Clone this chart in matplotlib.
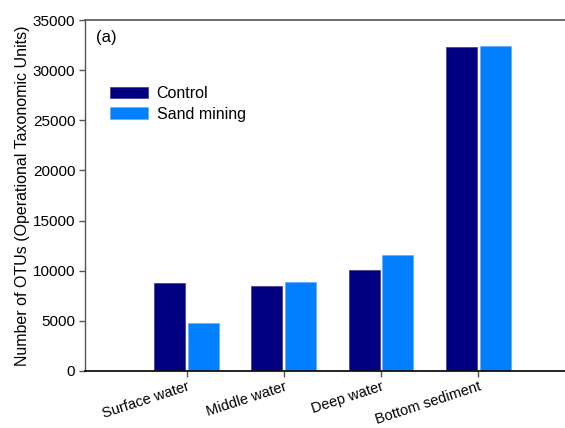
import matplotlib
matplotlib.use("Agg")
import matplotlib.pyplot as plt
import numpy as np

plt.rcParams['font.family'] = ['Liberation Sans', 'DejaVu Sans']

categories = ["Surface water", "Middle water", "Deep water", "Bottom sediment"]
control = [8770, 8500, 10070, 32300]
sand_mining = [4780, 8840, 11600, 32370]
yticks = [0, 5000, 10000, 15000, 20000, 25000, 30000, 35000]

fig = plt.figure(figsize=(5.65, 4.28), dpi=100)
ax = fig.add_axes([85/565, 57/428, 480/565, 351/428])

x = np.arange(len(categories))
w = 0.32
ax.bar(x - 0.175, control, width=w, color='#000080', edgecolor='#3a3a8a', linewidth=0.5, label='Control')
ax.bar(x + 0.173, sand_mining, width=w, color='#0080FF', edgecolor='#6aaaf5', linewidth=0.5, label='Sand mining')

ax.set_xlim(-1.046, 3.892)
ax.set_ylim(0, 35000)
ax.set_yticks(yticks)
ax.set_yticklabels([str(v) for v in yticks], fontsize=11)
ax.set_xticks(x)
ax.set_xticklabels(categories, rotation=18, ha='right', rotation_mode='anchor', fontsize=10.5)
ax.tick_params(axis='both', direction='out', length=4, width=1, color='#555555', pad=3)
ax.tick_params(axis='x', pad=2)
ax.set_ylabel("Number of OTUs (Operational Taxonomic Units)", fontsize=11.5, labelpad=2)

ax.spines['right'].set_visible(False)
ax.spines['top'].set_color('#555555')
ax.spines['top'].set_linewidth(1.2)
ax.spines['left'].set_color('#555555')
ax.spines['left'].set_linewidth(1.0)
ax.spines['bottom'].set_color('#111111')
ax.spines['bottom'].set_linewidth(1.3)

ax.text(0.022, 0.972, "(a)", transform=ax.transAxes, fontsize=12, va='top', ha='left')

ax.legend(loc='upper left', bbox_to_anchor=(0.038, 0.83), frameon=False, fontsize=11.5,
          handlelength=2.4, handleheight=0.7, handletextpad=0.55, labelspacing=0.35, borderaxespad=0)

fig.savefig("out.png", dpi=100)
